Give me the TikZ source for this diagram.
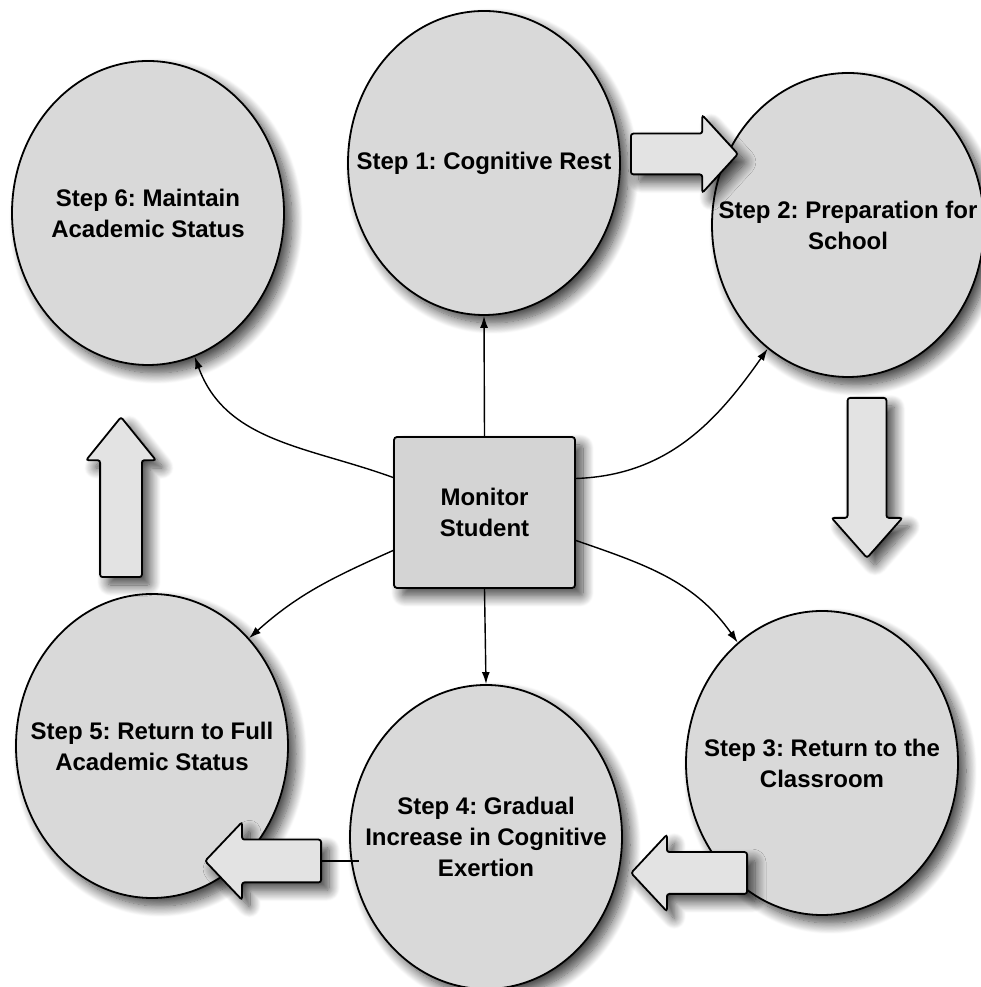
\documentclass[tikz,border=0pt]{standalone}
\usepackage{fontspec}
\setmainfont{Liberation Sans}
\usepackage{tikz}
\usetikzlibrary{arrows.meta,shapes.geometric,shapes.arrows,shadows.blur}

\newcommand{\stepfont}{\fontsize{24}{31}\selectfont\bfseries\frenchspacing}

\tikzset{
  softshadow/.style={blur shadow={shadow xshift=8pt, shadow yshift=-8pt,
      shadow blur radius=11pt, shadow blur steps=14, shadow opacity=75}},
  stepnode/.style={ellipse, draw, line width=1.8pt, fill=black!15,
      minimum width=272pt, minimum height=304pt, inner sep=0pt, softshadow},
  steplabel/.style={font=\stepfont, align=center, inner sep=0pt},
  monbox/.style={rectangle, draw, line width=1.8pt, rounded corners=3pt,
      fill=black!17, minimum width=181pt, minimum height=151pt,
      font=\stepfont, align=center, softshadow},
  blockarrow/.style={single arrow, draw, line width=1.8pt, rounded corners=2.5pt,
      fill=black!11, inner xsep=0pt, anchor=tail, softshadow},
  link/.style={-{Latex[length=12pt,width=8pt]}, line width=1.4pt},
}

\begin{document}
\begin{tikzpicture}[x=1pt, y=1pt]
  \useasboundingbox (0,0) rectangle (980,987);

  % the six steps
  \node[stepnode, label={[steplabel]center:{Step 1: Cognitive Rest}}] (s1) at (484,824) {};
  \node[stepnode, label={[steplabel]center:{Step 2: Preparation for\\School}}] (s2) at (848,762) {};
  \node[stepnode, label={[steplabel]center:{Step 3: Return to the\\Classroom}}] (s3) at (822,224) {};
  \node[stepnode, label={[steplabel]center:{Step 4: Gradual\\Increase in Cognitive\\Exertion}}] (s4) at (486,150) {};
  \node[stepnode, label={[steplabel]center:{Step 5: Return to Full\\Academic Status}}] (s5) at (152,241) {};
  \node[stepnode, label={[steplabel]center:{Step 6: Maintain\\Academic Status}}] (s6) at (148,774) {};

  % centre box
  \node[monbox] (mon) at (484.5,474.5) {Monitor\\Student};

  % links from the centre
  \draw[link] (mon.north) -- (s1.south);
  \draw[link] (mon.south) -- (s4.north);
  \draw[link] ([yshift=34pt]mon.east) to[out=2, in=235] (s2.237);
  \draw[link] ([yshift=-28pt]mon.east) to[out=-19, in=125] (s3.125);
  \draw[link] ([yshift=-38pt]mon.west) to[out=204, in=42] (s5.48);
  \draw[link] ([yshift=35pt]mon.west) to[out=160, in=290] (s6.288);

  % block arrows round the cycle (placed by their tails)
  \node[blockarrow, minimum height=107pt, inner ysep=19.5pt,
        single arrow head extend=18.5pt, single arrow tip angle=95] (a12) at (630,833) {};
  \node[blockarrow, minimum height=160pt, inner ysep=18.5pt,
        single arrow head extend=16pt, single arrow tip angle=83, rotate=-90] (a23) at (867,590) {};
  \node[blockarrow, minimum height=116pt, inner ysep=20pt,
        single arrow head extend=17.5pt, single arrow tip angle=94, rotate=180] (a34) at (748,114) {};
  \node[blockarrow, minimum height=116pt, inner ysep=20.5pt,
        single arrow head extend=17.5pt, single arrow tip angle=93, rotate=180] (a45) at (322,126) {};
  \node[blockarrow, minimum height=160pt, inner ysep=20pt,
        single arrow head extend=14pt, single arrow tip angle=78, rotate=90] (a56) at (121,409) {};

  \path (s4.west) ++(10,0) coordinate (s4in);
  \draw[line width=1.4pt] (a45.tail) -- (s4in |- a45.tail);
\end{tikzpicture}
\end{document}
